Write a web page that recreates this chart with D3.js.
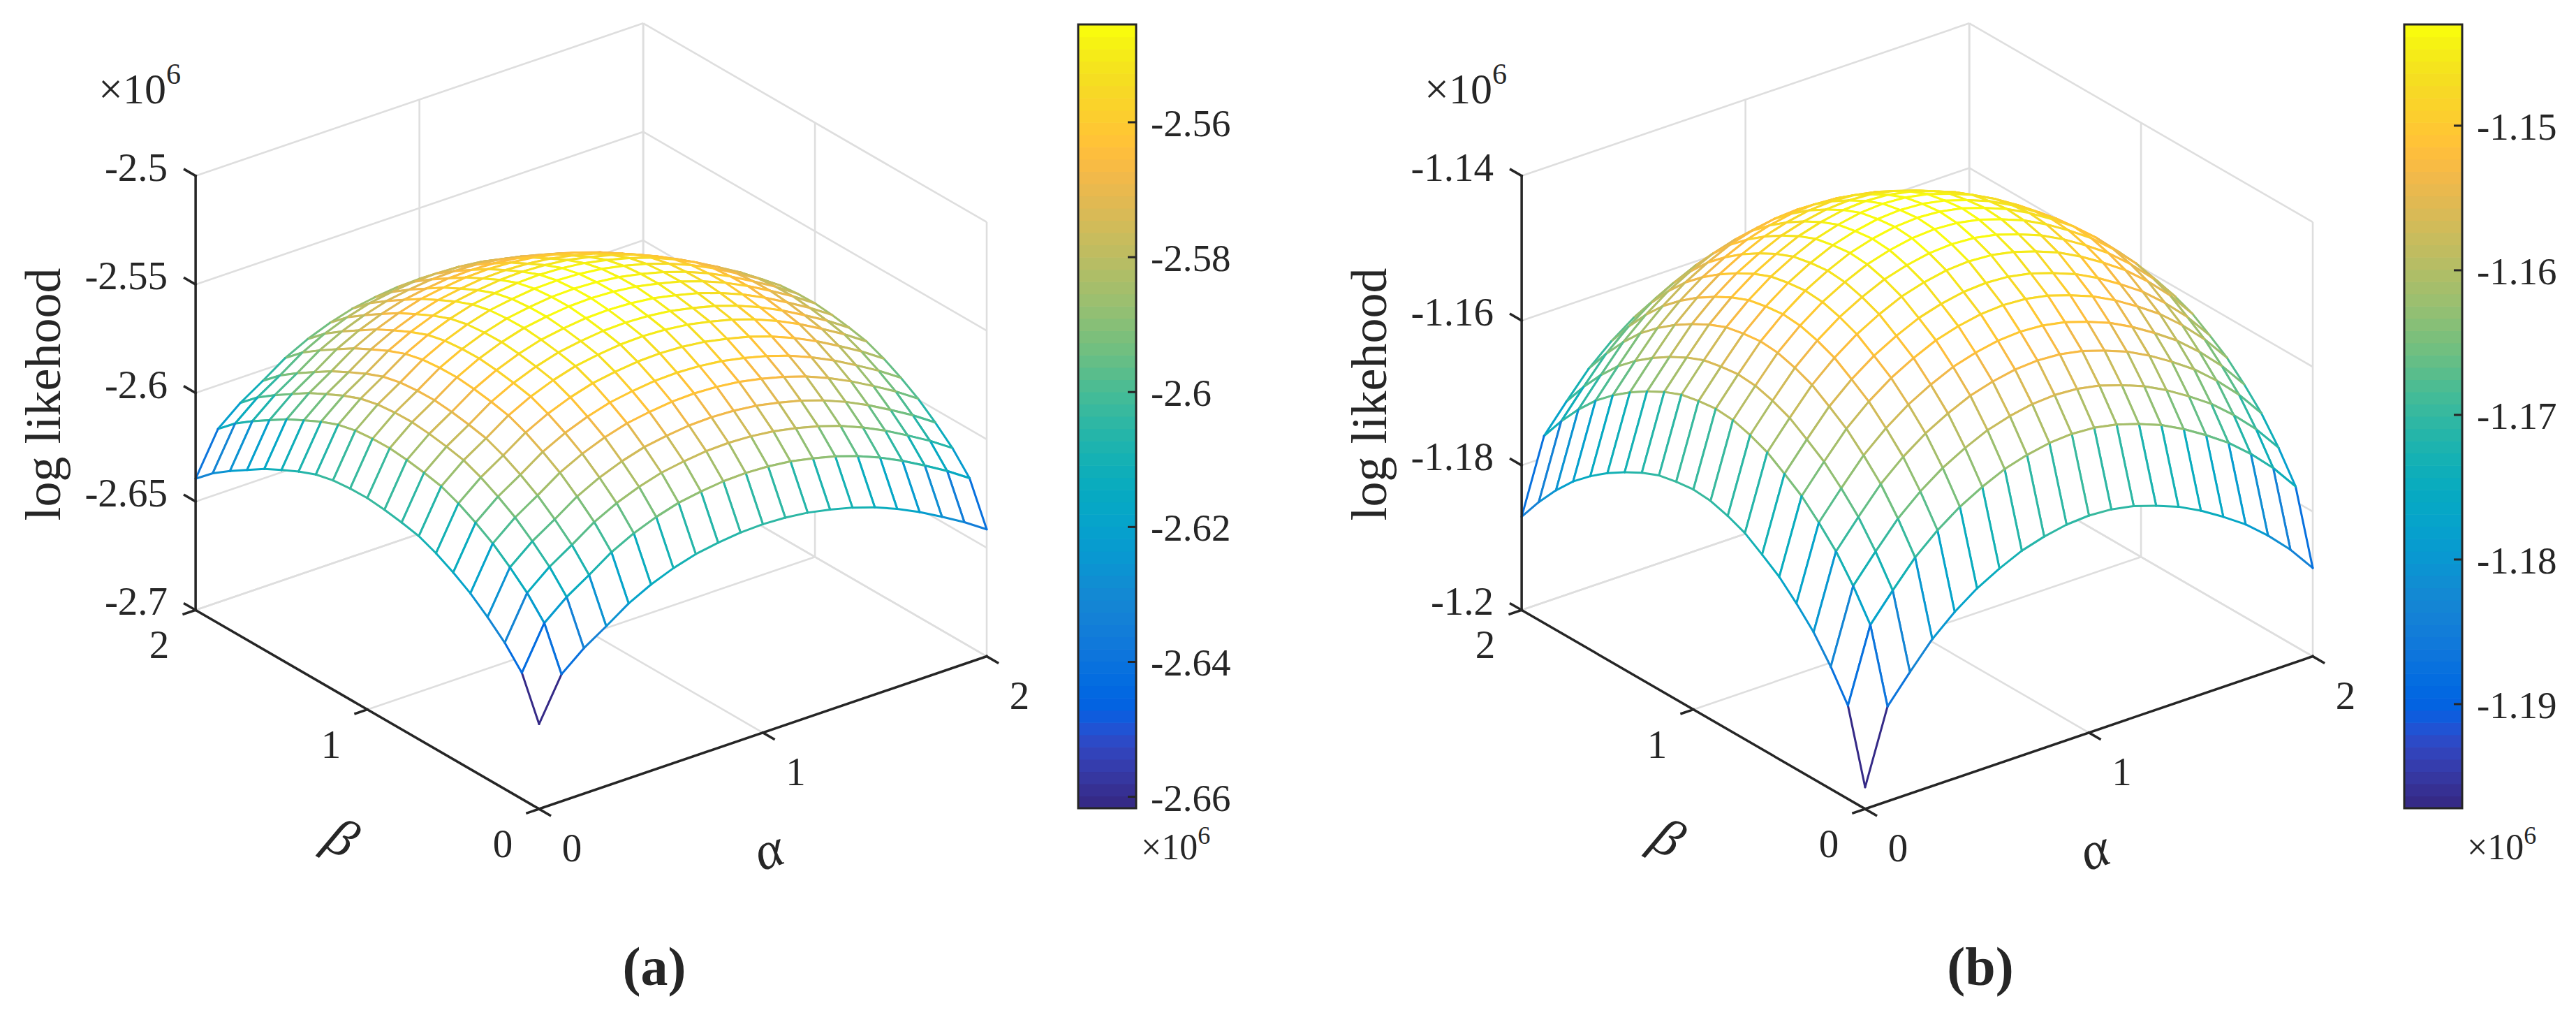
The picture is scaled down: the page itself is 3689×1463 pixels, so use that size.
<!DOCTYPE html>
<html><head><meta charset="utf-8">
<script src="https://cdn.jsdelivr.net/npm/d3@7"></script>
<style>
body{margin:0;background:#fff}
svg{display:block}
text{font-family:"Liberation Serif","Times New Roman","DejaVu Serif",serif;fill:#262626}
</style>
</head><body>
<svg id="chart" width="3689" height="1463"></svg>
<script>
// ---------------- data (×10^6) ----------------
const gridAlpha = [0,0.1,0.2,0.3,0.4,0.5,0.6,0.7,0.8,0.9,1.0,1.1,1.2,1.3,1.4,1.5,1.6,1.7,1.8,1.9,2.0];
const gridBeta  = [0,0.1,0.2,0.3,0.4,0.5,0.6,0.7,0.8,0.9,1.0,1.1,1.2,1.3,1.4,1.5,1.6,1.7,1.8,1.9,2.0];

// (a) surface edge profiles: along alpha at beta=0, along beta at alpha=0
const zEdgeAlphaA = [-2.6609,-2.6415,-2.6330,-2.6264,-2.6194,-2.6142,-2.6102,-2.6072,-2.6055,-2.6043,-2.6040,-2.6045,-2.6057,-2.6078,-2.6104,-2.6138,-2.6180,-2.6230,-2.6287,-2.6347,-2.6415];
const zEdgeBetaA  = [-2.6609,-2.6419,-2.6326,-2.6254,-2.6190,-2.6140,-2.6097,-2.6064,-2.6047,-2.6034,-2.6026,-2.6028,-2.6036,-2.6055,-2.6087,-2.6126,-2.6167,-2.6217,-2.6268,-2.6324,-2.6395];
// (b)
const zEdgeAlphaB = [-1.1970,-1.1869,-1.1832,-1.1797,-1.1770,-1.1748,-1.1731,-1.1717,-1.1708,-1.1702,-1.1700,-1.1702,-1.1708,-1.1718,-1.1730,-1.1746,-1.1765,-1.1786,-1.1812,-1.1842,-1.1878];
const zEdgeBetaB  = [-1.1970,-1.1871,-1.1831,-1.1797,-1.1771,-1.1748,-1.1731,-1.1715,-1.1705,-1.1698,-1.1696,-1.1699,-1.1704,-1.1714,-1.1727,-1.1742,-1.1760,-1.1781,-1.1807,-1.1837,-1.1871];

const alphaTicks = [0,1,2];
const alphaTickLabels = ["0","1","2"];
const betaTicks = [0,1,2];
const betaTickLabels = ["0","1","2"];

const zDomainA = [-2.7,-2.5];
const zTicksA = [-2.7,-2.65,-2.6,-2.55,-2.5];
const zTickLabelsA = ["-2.7","-2.65","-2.6","-2.55","-2.5"];
const zDomainB = [-1.2,-1.14];
const zTicksB = [-1.2,-1.18,-1.16,-1.14];
const zTickLabelsB = ["-1.2","-1.18","-1.16","-1.14"];

const cbarRangeA = [-2.6617,-2.5455];
const cbarTicksA = [-2.66,-2.64,-2.62,-2.6,-2.58,-2.56];
const cbarTickLabelsA = ["-2.66","-2.64","-2.62","-2.6","-2.58","-2.56"];
const cbarRangeB = [-1.1972,-1.1430];
const cbarTicksB = [-1.19,-1.18,-1.17,-1.16,-1.15];
const cbarTickLabelsB = ["-1.19","-1.18","-1.17","-1.16","-1.15"];

const zAxisTitle = "log likehood";
const alphaTitle = "α";
const betaTitle = "β";
const panelLabels = ["(a)","(b)"];

// parula colormap (64)
const parulaRGB = [[0.2081,0.1663,0.5292],[0.2116,0.1898,0.5777],[0.2123,0.2138,0.6270],[0.2081,0.2386,0.6771],[0.1959,0.2645,0.7279],[0.1707,0.2919,0.7792],[0.1253,0.3242,0.8303],[0.0591,0.3598,0.8683],[0.0117,0.3875,0.8820],[0.0060,0.4086,0.8828],[0.0165,0.4266,0.8786],[0.0329,0.4430,0.8720],[0.0498,0.4586,0.8641],[0.0629,0.4737,0.8554],[0.0723,0.4887,0.8467],[0.0779,0.5040,0.8384],[0.0793,0.5200,0.8312],[0.0749,0.5375,0.8263],[0.0641,0.5570,0.8240],[0.0488,0.5772,0.8228],[0.0343,0.5966,0.8199],[0.0265,0.6137,0.8135],[0.0239,0.6287,0.8038],[0.0231,0.6418,0.7913],[0.0228,0.6535,0.7768],[0.0267,0.6642,0.7607],[0.0384,0.6743,0.7436],[0.0590,0.6838,0.7254],[0.0843,0.6928,0.7062],[0.1133,0.7015,0.6859],[0.1453,0.7098,0.6646],[0.1801,0.7177,0.6424],[0.2178,0.7250,0.6193],[0.2586,0.7317,0.5954],[0.3022,0.7376,0.5712],[0.3482,0.7424,0.5473],[0.3953,0.7459,0.5244],[0.4420,0.7481,0.5033],[0.4871,0.7491,0.4840],[0.5300,0.7491,0.4661],[0.5709,0.7485,0.4494],[0.6099,0.7473,0.4337],[0.6473,0.7456,0.4188],[0.6834,0.7435,0.4044],[0.7184,0.7411,0.3905],[0.7525,0.7384,0.3768],[0.7858,0.7356,0.3633],[0.8185,0.7327,0.3498],[0.8507,0.7299,0.3360],[0.8824,0.7274,0.3217],[0.9139,0.7258,0.3063],[0.9450,0.7261,0.2886],[0.9739,0.7314,0.2666],[0.9938,0.7455,0.2403],[0.9990,0.7653,0.2164],[0.9955,0.7861,0.1967],[0.9880,0.8066,0.1794],[0.9789,0.8271,0.1633],[0.9697,0.8481,0.1475],[0.9626,0.8705,0.1309],[0.9589,0.8949,0.1132],[0.9598,0.9218,0.0948],[0.9661,0.9514,0.0755],[0.9763,0.9831,0.0538]];
const parula = parulaRGB.map(c => d3.rgb(c[0]*255, c[1]*255, c[2]*255).formatHex());

// ---------------- drawing ----------------
const svg = d3.select("#chart");
const INK = "#262626", GRID = "#dedede";
const FONT = "'Liberation Serif','Times New Roman','DejaVu Serif',serif";

const panels = [
  {dx:0, zA:zEdgeAlphaA, zB:zEdgeBetaA, zDomain:zDomainA, zTicks:zTicksA, zLabels:zTickLabelsA,
   cbar:cbarRangeA, cTicks:cbarTicksA, cLabels:cbarTickLabelsA, label:panelLabels[0]},
  {dx:1899, zA:zEdgeAlphaB, zB:zEdgeBetaB, zDomain:zDomainB, zTicks:zTicksB, zLabels:zTickLabelsB,
   cbar:cbarRangeB, cTicks:cbarTicksB, cLabels:cbarTickLabelsB, label:panelLabels[1]}
];

panels.forEach(cfg => drawPanel(cfg));
svg.selectAll("text").attr("font-family", FONT).attr("fill", INK);

function drawPanel(cfg){
  const g = svg.append("g");
  const xS = d3.scaleLinear().domain([0,2]).range([0,1]);
  const yS = d3.scaleLinear().domain([0,2]).range([0,1]);
  const zS = d3.scaleLinear().domain(cfg.zDomain).range([0,1]);
  const color = d3.scaleQuantize().domain(cfg.cbar).range(parula);
  const az = -37.5*Math.PI/180, el = 30*Math.PI/180;
  const SX = 808, SY = 717.7, OX = 772 + cfg.dx, OY = 1158;
  const ca = Math.cos(az), sa = Math.sin(az), ce = Math.cos(el), se = Math.sin(el);
  const P = (a,b,z) => {
    const u = xS(a), v = yS(b), w = zS(z);
    return [OX + SX*(ca*u + sa*v), OY - SY*(-se*sa*u + se*ca*v + ce*w)];
  };
  const zmin = cfg.zDomain[0], zmax = cfg.zDomain[1];
  const line = (p,q) => ({x1:p[0],y1:p[1],x2:q[0],y2:q[1]});

  // back walls & floor grid
  const gridLines = [];
  cfg.zTicks.forEach(z => { gridLines.push(line(P(0,2,z),P(2,2,z))); gridLines.push(line(P(2,0,z),P(2,2,z))); });
  alphaTicks.forEach(a => { gridLines.push(line(P(a,2,zmin),P(a,2,zmax))); gridLines.push(line(P(a,0,zmin),P(a,2,zmin))); });
  betaTicks.forEach(b => { gridLines.push(line(P(2,b,zmin),P(2,b,zmax))); gridLines.push(line(P(0,b,zmin),P(2,b,zmin))); });
  g.append("g").selectAll("line").data(gridLines).join("line")
    .attr("x1",d=>d.x1).attr("y1",d=>d.y1).attr("x2",d=>d.x2).attr("y2",d=>d.y2)
    .attr("stroke",GRID).attr("stroke-width",2.6);

  // surface table built from the read edge profiles
  const Z = gridAlpha.map((a,i) => gridBeta.map((b,j) => cfg.zA[i] + cfg.zB[j] - cfg.zA[0]));
  const quads = [];
  for (let i=0;i<gridAlpha.length-1;i++) for (let j=0;j<gridBeta.length-1;j++){
    const uc = xS((gridAlpha[i]+gridAlpha[i+1])/2), vc = yS((gridBeta[j]+gridBeta[j+1])/2);
    quads.push({i,j,depth: -sa*uc + ca*vc});
  }
  quads.sort((p,q) => q.depth - p.depth);
  const V = (i,j) => P(gridAlpha[i], gridBeta[j], Z[i][j]);
  const surf = g.append("g").attr("stroke-linecap","round");
  const qg = surf.selectAll("g").data(quads).join("g");
  qg.append("path")
    .attr("d", d => { const a=V(d.i,d.j), b=V(d.i+1,d.j), c=V(d.i+1,d.j+1), e=V(d.i,d.j+1);
       return `M${a}L${b}L${c}L${e}Z`; })
    .attr("fill","#fff").attr("stroke","none");
  qg.each(function(d){
    const sel = d3.select(this);
    const edges = [
      [[d.i,d.j],[d.i+1,d.j]], [[d.i,d.j],[d.i,d.j+1]],
      [[d.i+1,d.j],[d.i+1,d.j+1]], [[d.i,d.j+1],[d.i+1,d.j+1]]
    ];
    sel.selectAll("line").data(edges).join("line")
      .attr("x1",e=>V(...e[0])[0]).attr("y1",e=>V(...e[0])[1])
      .attr("x2",e=>V(...e[1])[0]).attr("y2",e=>V(...e[1])[1])
      .attr("stroke",e=>color(Z[e[0][0]][e[0][1]])).attr("stroke-width",3);
  });

  // axes
  const unit = (p,q) => { const dx=q[0]-p[0], dy=q[1]-p[1], L=Math.hypot(dx,dy); return [dx/L,dy/L]; };
  const du = unit(P(0,0,zmin),P(2,0,zmin)), dv = unit(P(0,0,zmin),P(0,2,zmin));
  const ax = g.append("g").attr("stroke",INK).attr("stroke-width",3.5).attr("stroke-linecap","square");
  const axLines = [line(P(0,2,zmin),P(0,2,zmax)), line(P(0,0,zmin),P(2,0,zmin)), line(P(0,0,zmin),P(0,2,zmin))];
  const TL = 18;
  cfg.zTicks.forEach(z => { const p=P(0,2,z); axLines.push(line(p,[p[0]+dv[0]*TL,p[1]+dv[1]*TL])); });
  alphaTicks.forEach(a => { const p=P(a,0,zmin); axLines.push(line(p,[p[0]-dv[0]*TL,p[1]-dv[1]*TL])); });
  betaTicks.forEach(b => { const p=P(0,b,zmin); axLines.push(line(p,[p[0]-du[0]*TL,p[1]-du[1]*TL])); });
  ax.selectAll("line").data(axLines).join("line")
    .attr("x1",d=>d.x1).attr("y1",d=>d.y1).attr("x2",d=>d.x2).attr("y2",d=>d.y2);

  // tick labels
  g.append("g").selectAll("text").data(cfg.zTicks).join("text")
    .attr("x", z => P(0,2,z)[0]-40).attr("y", z => P(0,2,z)[1]+7)
    .attr("text-anchor","end").attr("font-size",57).text((z,k)=>cfg.zLabels[k]);
  g.append("g").selectAll("text").data(alphaTicks).join("text")
    .attr("x", a => P(a,0,zmin)[0]+47).attr("y", a => P(a,0,zmin)[1]+75)
    .attr("text-anchor","middle").attr("font-size",57).text((a,k)=>alphaTickLabels[k]);
  g.append("g").selectAll("text").data(betaTicks).join("text")
    .attr("x", b => P(0,b,zmin)[0]-52).attr("y", b => P(0,b,zmin)[1]+69)
    .attr("text-anchor","middle").attr("font-size",57).text((b,k)=>betaTickLabels[k]);

  // ×10^6 above z axis
  const zx = g.append("text").attr("x",141+cfg.dx).attr("y",148).attr("font-size",62);
  zx.append("tspan").text("×10");
  zx.append("tspan").attr("font-size",42).attr("dy",-28).text("6");

  // axis titles
  const za = P(0,2,(zmin+zmax)/2);
  g.append("text").attr("transform",`translate(${86+cfg.dx},${za[1]+2}) rotate(-90)`)
    .attr("text-anchor","middle").attr("font-size",72).text(zAxisTitle);
  const pa = P(1,0,zmin);
  g.append("text").attr("transform",`translate(${pa[0]+11},${pa[1]+177}) rotate(-18.8)`)
    .attr("text-anchor","middle").attr("y",16).attr("font-size",76).attr("font-style","italic").text(alphaTitle);
  const pb = P(0,1,zmin);
  g.append("text").attr("transform",`translate(${pb[0]-39},${pb[1]+188}) rotate(30)`)
    .attr("text-anchor","middle").attr("y",20).attr("font-size",76).attr("font-style","italic").text(betaTitle);

  // colorbar
  const cx0 = 1544+cfg.dx, cx1 = 1627+cfg.dx;
  const cy = d3.scaleLinear().domain(cfg.cbar).range([1157,35]);
  const step = (cfg.cbar[1]-cfg.cbar[0])/parula.length;
  const cb = g.append("g");
  cb.selectAll("rect").data(parula).join("rect")
    .attr("x",cx0).attr("width",cx1-cx0)
    .attr("y",(c,k)=>cy(cfg.cbar[0]+(k+1)*step)).attr("height",(c,k)=>cy(cfg.cbar[0]+k*step)-cy(cfg.cbar[0]+(k+1)*step)+0.6)
    .attr("fill",c=>c);
  cb.append("rect").attr("x",cx0).attr("y",35).attr("width",cx1-cx0).attr("height",1122)
    .attr("fill","none").attr("stroke",INK).attr("stroke-width",3);
  cb.selectAll("line").data(cfg.cTicks).join("line")
    .attr("x1",cx1).attr("x2",cx1-12).attr("y1",v=>cy(v)).attr("y2",v=>cy(v))
    .attr("stroke",INK).attr("stroke-width",3);
  cb.selectAll("text.cl").data(cfg.cTicks).join("text").attr("class","cl")
    .attr("x",cx1+21).attr("y",v=>cy(v)+20).attr("font-size",55)
    .text((v,k)=>cfg.cLabels[k]);
  const cxl = cb.append("text").attr("x",cx1+7).attr("y",1230).attr("font-size",52);
  cxl.append("tspan").text("×10");
  cxl.append("tspan").attr("font-size",36).attr("dy",-22).text("6");

  // panel label
  g.append("text").attr("x",937+cfg.dx).attr("y",1410).attr("text-anchor","middle")
    .attr("font-size",78).attr("font-weight","bold").text(cfg.label);
}
</script>
</body></html>
